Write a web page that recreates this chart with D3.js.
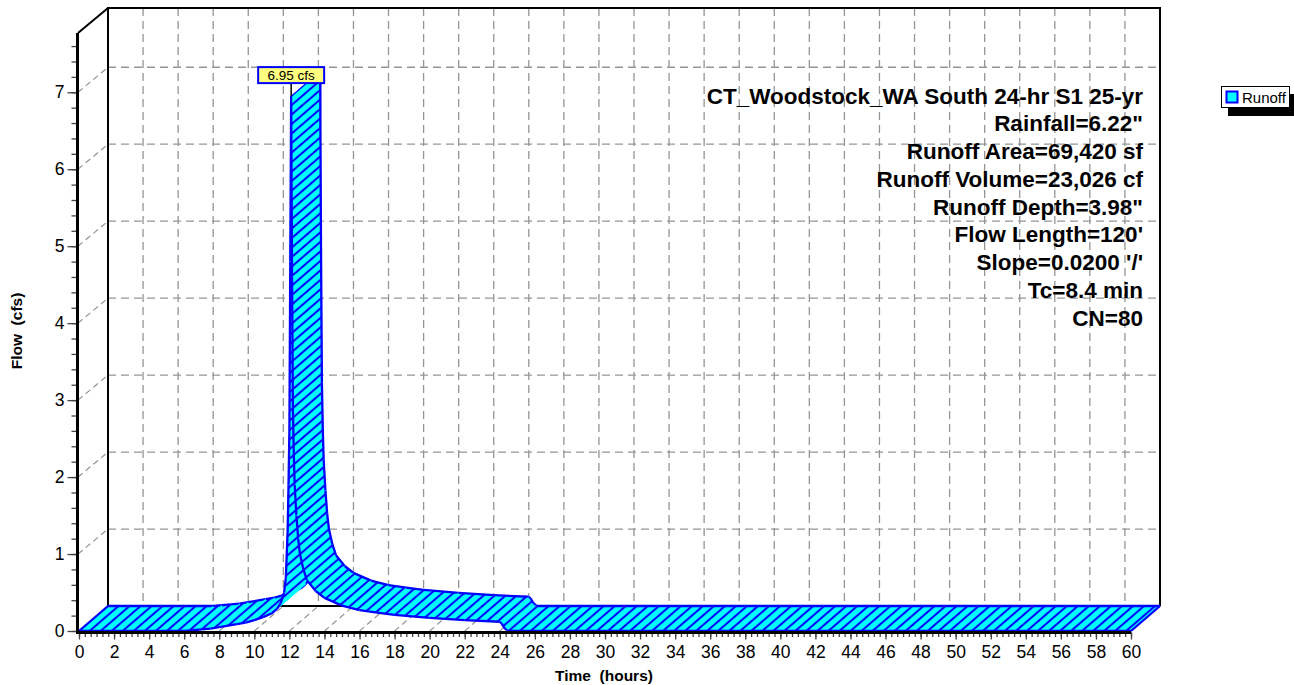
<!DOCTYPE html>
<html>
<head>
<meta charset="utf-8">
<script src="https://cdn.jsdelivr.net/npm/d3@7"></script>
<style>
  html, body { margin: 0; padding: 0; background: #fff; }
  svg { display: block; font-family: "Liberation Sans", Arial, sans-serif; }
</style>
</head>
<body>
<script>
// ---------------- data ----------------
const timeHours = [0, 6.0, 6.5, 7, 7.5, 8, 8.5, 9, 9.5, 10, 10.5, 11, 11.3, 11.5, 11.7, 11.8, 11.9, 11.95,
  12.0, 12.05, 12.1, 12.15, 12.2, 12.25, 12.3, 12.4, 12.5, 12.6, 12.8, 13.0, 13.5, 14, 15, 16, 17, 18,
  20, 22, 24, 24.1, 24.2, 24.3, 24.4, 24.5, 60];
const flowCfs = [0, 0, 0.01, 0.02, 0.03, 0.05, 0.07, 0.09, 0.11, 0.14, 0.18, 0.23, 0.29, 0.36, 0.5, 0.7, 1.3, 1.9,
  2.6, 4.8, 6.95, 4.6, 2.9, 2.3, 1.9, 1.5, 1.2, 1.0, 0.8, 0.66, 0.52, 0.43, 0.33, 0.27, 0.24, 0.21,
  0.17, 0.14, 0.12, 0.1, 0.06, 0.03, 0.01, 0, 0];
const xTickLabels = [0, 2, 4, 6, 8, 10, 12, 14, 16, 18, 20, 22, 24, 26, 28, 30, 32, 34, 36, 38, 40, 42, 44, 46, 48, 50, 52, 54, 56, 58, 60];
const yTickLabels = [0, 1, 2, 3, 4, 5, 6, 7];
const infoLines = [
  "CT_Woodstock_WA South 24-hr S1 25-yr",
  "Rainfall=6.22\"",
  "Runoff Area=69,420 sf",
  "Runoff Volume=23,026 cf",
  "Runoff Depth=3.98\"",
  "Flow Length=120'",
  "Slope=0.0200 '/'",
  "Tc=8.4 min",
  "CN=80"
];
const seriesName = "Runoff";
const peakTime = 12.1;
const peakFlow = 6.95;
const peakLabel = "6.95 cfs";
const xTitle = "Time  (hours)";
const yTitle = "Flow  (cfs)";

// ---------------- layout ----------------
const W = 1294, H = 685;
const DX = 29, DY = -25;           // depth offset of the back plane
const x = d3.scaleLinear().domain([0, 60]).range([79, 1131]);
const y = d3.scaleLinear().domain([0, 7.77]).range([631, 33]);
const xMax = 60, yMax = 7.77;

const svg = d3.select("body").append("svg").attr("width", W).attr("height", H);

const defs = svg.append("defs");
const ang = Math.atan2(DY, DX) * 180 / Math.PI;
const pat = defs.append("pattern").attr("id", "hatch")
  .attr("patternUnits", "userSpaceOnUse")
  .attr("width", 20).attr("height", 7.2)
  .attr("patternTransform", `rotate(${ang})`);
pat.append("rect").attr("width", 20).attr("height", 7.2).attr("fill", "#00ffff");
pat.append("line").attr("x1", -1).attr("x2", 21).attr("y1", 3.6).attr("y2", 3.6)
  .attr("stroke", "#0000ff").attr("stroke-width", 2);

const gridColor = "#959595";
const dash = "8,5";
const grid = svg.append("g");

// back wall vertical grid lines
grid.selectAll(".vg").data(xTickLabels).join("line")
  .attr("x1", d => x(d) + DX).attr("x2", d => x(d) + DX)
  .attr("y1", y(yMax) + DY).attr("y2", y(0) + DY)
  .attr("stroke", gridColor).attr("stroke-width", 1.3).attr("stroke-dasharray", dash);
// back wall horizontal grid lines
grid.selectAll(".hg").data(yTickLabels.filter(d => d > 0)).join("line")
  .attr("x1", x(0) + DX).attr("x2", x(xMax) + DX)
  .attr("y1", d => y(d) + DY).attr("y2", d => y(d) + DY)
  .attr("stroke", gridColor).attr("stroke-width", 1.3).attr("stroke-dasharray", dash);
// left wall diagonals
grid.selectAll(".lg").data(yTickLabels.filter(d => d > 0)).join("line")
  .attr("x1", x(0) - 1).attr("x2", x(0) + DX)
  .attr("y1", d => y(d)).attr("y2", d => y(d) + DY)
  .attr("stroke", gridColor).attr("stroke-width", 1.2).attr("stroke-dasharray", "6,4");
// floor diagonals
grid.selectAll(".fg").data(xTickLabels.filter(d => d > 0 && d < 60)).join("line")
  .attr("x1", d => x(d)).attr("x2", d => x(d) + DX)
  .attr("y1", y(0)).attr("y2", y(0) + DY)
  .attr("stroke", gridColor).attr("stroke-width", 1.2).attr("stroke-dasharray", "6,4");

// frame
const frame = svg.append("g").attr("fill", "none").attr("stroke", "#000");
frame.append("path")
  .attr("d", `M${x(0) + DX},${y(0) + DY} V${y(yMax) + DY} H${x(xMax) + DX} V${y(0) + DY}`)
  .attr("stroke-width", 2);
frame.append("path")
  .attr("d", `M${x(0) + DX},${y(0) + DY} H${x(xMax) + DX}`).attr("stroke-width", 2);
frame.append("path")
  .attr("d", `M${x(0) - 1},${y(yMax)} L${x(0) + DX},${y(yMax) + DY}`).attr("stroke-width", 2);

// ---------------- ribbon ----------------
const pts = timeHours.map((t, i) => ({ t, v: flowCfs[i] }));
const ribbon = svg.append("g");
const lineF = d3.line().x(d => x(d.t)).y(d => y(d.v));
const lineB = d3.line().x(d => x(d.t) + DX).y(d => y(d.v) + DY);
for (let i = 0; i < pts.length - 1; i++) {
  const a = pts[i], b = pts[i + 1];
  const g = ribbon.append("g");
  g.append("path")
    .attr("d", `M${x(a.t)},${y(a.v)} L${x(b.t)},${y(b.v)} L${x(b.t) + DX},${y(b.v) + DY} L${x(a.t) + DX},${y(a.v) + DY}Z`)
    .attr("fill", "url(#hatch)").attr("stroke", "url(#hatch)").attr("stroke-width", 0.6);
  g.append("path").attr("d", lineF([a, b])).attr("fill", "none").attr("stroke", "#0000ff").attr("stroke-width", 2.3);
  g.append("path").attr("d", lineB([a, b])).attr("fill", "none").attr("stroke", "#0000ff").attr("stroke-width", 2.3);
}
[pts[0], pts[pts.length - 1]].forEach(p => {
  ribbon.append("line")
    .attr("x1", x(p.t)).attr("y1", y(p.v)).attr("x2", x(p.t) + DX).attr("y2", y(p.v) + DY)
    .attr("stroke", "#0000ff").attr("stroke-width", 2.3);
});

// ---------------- axes ----------------
const tickColor = "#444";
const fs = "17.5px";
// y axis minor
const yMinor = svg.append("g").attr("transform", `translate(${x(0) - 1.5},0)`)
  .call(d3.axisLeft(y).tickValues(d3.range(0, 7.7, 0.2)).tickSize(6).tickFormat(""));
yMinor.select(".domain").remove();
yMinor.selectAll("line").attr("stroke", tickColor).attr("stroke-width", 1.3);
const yAx = svg.append("g").attr("transform", `translate(${x(0) - 1.5},0)`)
  .call(d3.axisLeft(y).tickValues(yTickLabels).tickSize(10).tickPadding(3).tickFormat(d3.format("d")));
yAx.select(".domain").remove();
yAx.selectAll("line").attr("stroke", tickColor).attr("stroke-width", 1.3);
yAx.selectAll("text").attr("font-size", fs).attr("fill", "#000")
  .attr("font-family", "Liberation Sans, Arial, sans-serif");

// x axis minor
const xMinor = svg.append("g").attr("transform", `translate(0,${y(0) + 1.5})`)
  .call(d3.axisBottom(x).tickValues(d3.range(0, 60.01, 1 / 3)).tickSize(4.5).tickFormat(""));
xMinor.select(".domain").remove();
xMinor.selectAll("line").attr("stroke", tickColor).attr("stroke-width", 1.3);
const xAx = svg.append("g").attr("transform", `translate(0,${y(0) + 1.5})`)
  .call(d3.axisBottom(x).tickValues(xTickLabels).tickSize(7).tickPadding(6).tickFormat(d3.format("d")));
xAx.select(".domain").remove();
xAx.selectAll("line").attr("stroke", tickColor).attr("stroke-width", 1.3);
xAx.selectAll("text").attr("font-size", fs).attr("fill", "#000")
  .attr("font-family", "Liberation Sans, Arial, sans-serif");

// thick front axis lines
svg.append("path").attr("d", `M${x(0) - 1.5},${y(yMax)} V${y(0) + 2}`)
  .attr("stroke", "#000").attr("stroke-width", 3).attr("fill", "none");
svg.append("path").attr("d", `M${x(0) - 3},${y(0) + 1.5} H${x(xMax)}`)
  .attr("stroke", "#000").attr("stroke-width", 3).attr("fill", "none");

// axis titles
svg.append("text").attr("x", 604).attr("y", 681).attr("text-anchor", "middle")
  .attr("font-size", "15.5px").attr("font-weight", "bold").style("white-space", "pre").text(xTitle);
svg.append("text").attr("transform", "translate(22,331) rotate(-90)").attr("text-anchor", "middle")
  .attr("font-size", "15.5px").attr("font-weight", "bold").style("white-space", "pre").text(yTitle);

// ---------------- info text ----------------
svg.append("g").selectAll("text").data(infoLines).join("text")
  .attr("x", 1143).attr("y", (d, i) => 103.5 + i * 27.75)
  .attr("text-anchor", "end").attr("font-size", "22.5px").attr("font-weight", "bold")
  .attr("fill", "#000").text(d => d);

// ---------------- peak label ----------------
const px = x(peakTime), py = y(peakFlow);
svg.append("line").attr("x1", px).attr("x2", px).attr("y1", py - 13).attr("y2", py)
  .attr("stroke", "#000").attr("stroke-width", 1.5);
svg.append("rect").attr("x", px - 33).attr("y", py - 29).attr("width", 66).attr("height", 16)
  .attr("fill", "#ffff80").attr("stroke", "#0000ff").attr("stroke-width", 2);
svg.append("text").attr("x", px).attr("y", py - 16.5).attr("text-anchor", "middle")
  .attr("font-size", "13.5px").attr("fill", "#000").text(peakLabel);

// ---------------- legend ----------------
const lg = svg.append("g");
lg.append("rect").attr("x", 1228).attr("y", 94).attr("width", 66).attr("height", 22).attr("fill", "#000");
lg.append("rect").attr("x", 1221.5).attr("y", 86.5).attr("width", 68).attr("height", 21)
  .attr("fill", "#fff").attr("stroke", "#000").attr("stroke-width", 1);
lg.append("rect").attr("x", 1226.5).attr("y", 91.5).attr("width", 11).attr("height", 11)
  .attr("fill", "#00ffff").attr("stroke", "#0000ff").attr("stroke-width", 2);
lg.append("text").attr("x", 1242).attr("y", 102.5).attr("font-size", "15px").attr("fill", "#000").text(seriesName);
</script>
</body>
</html>
